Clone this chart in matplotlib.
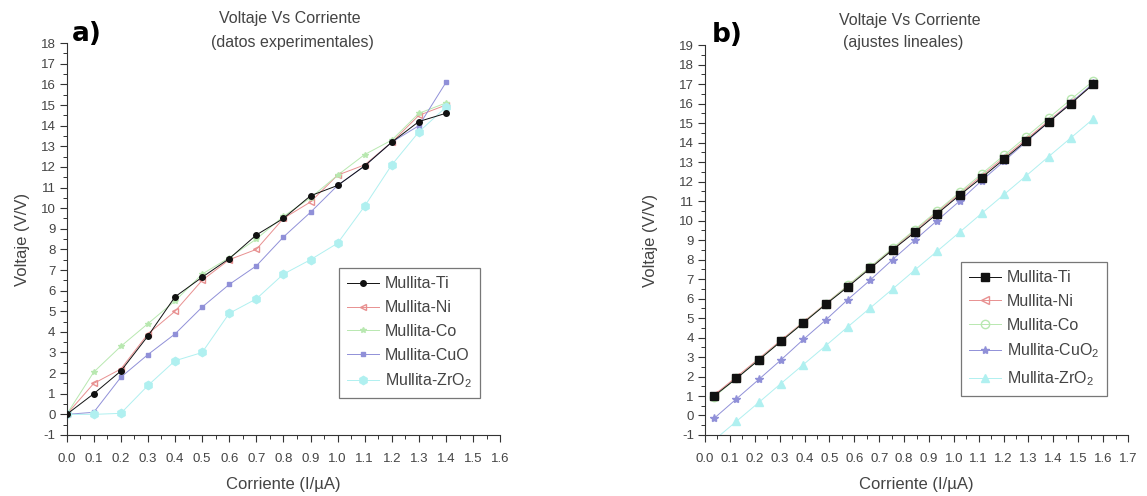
import matplotlib
matplotlib.use("Agg")
import matplotlib.pyplot as plt
import numpy as np
from matplotlib.ticker import MultipleLocator

plt.rcParams['font.family'] = ['Liberation Sans', 'DejaVu Sans']
plt.rcParams['mathtext.default'] = 'regular'
plt.rcParams['axes.unicode_minus'] = False

# ---- Panel a: experimental data ----
xa = [0.0, 0.1, 0.2, 0.3, 0.4, 0.5, 0.6, 0.7, 0.8, 0.9, 1.0, 1.1, 1.2, 1.3, 1.4]
ti_a = [0.0, 1.0, 2.1, 3.8, 5.7, 6.65, 7.55, 8.7, 9.5, 10.6, 11.1, 12.05, 13.2, 14.2, 14.6]
ni_a = [0.0, 1.5, 2.2, 3.9, 5.0, 6.5, 7.5, 8.0, 9.5, 10.3, 11.6, 12.1, 13.2, 14.5, 15.0]
co_a = [0.0, 2.05, 3.3, 4.4, 5.5, 6.8, 7.6, 8.5, 9.6, 10.5, 11.6, 12.6, 13.3, 14.6, 15.1]
cuo_a = [0.0, 0.1, 1.8, 2.9, 3.9, 5.2, 6.3, 7.2, 8.6, 9.8, 11.1, 12.05, 13.2, 14.0, 16.1]
zro_a = [0.0, 0.0, 0.05, 1.4, 2.6, 3.0, 4.9, 5.6, 6.8, 7.5, 8.3, 10.1, 12.1, 13.7, 14.9]

# ---- Panel b: linear fits ----
xb = [0.036, 0.126, 0.216, 0.305, 0.395, 0.485, 0.574, 0.664, 0.754,
      0.843, 0.933, 1.023, 1.112, 1.202, 1.292, 1.381, 1.471, 1.561]
ti_b = [1.0, 1.9, 2.85, 3.8, 4.75, 5.7, 6.6, 7.55, 8.5, 9.4, 10.35, 11.3,
        12.2, 13.15, 14.1, 15.05, 16.0, 17.0]
ni_b = [1.05, 1.98, 2.92, 3.86, 4.8, 5.74, 6.67, 7.61, 8.55, 9.49, 10.43,
        11.37, 12.3, 13.24, 14.18, 15.12, 16.06, 17.0]
co_b = [0.95, 1.9, 2.86, 3.81, 4.77, 5.72, 6.67, 7.63, 8.58, 9.54, 10.49,
        11.45, 12.4, 13.35, 14.31, 15.26, 16.22, 17.17]
cuo_b = [-0.15, 0.85, 1.85, 2.85, 3.9, 4.9, 5.95, 6.95, 8.0, 9.0, 10.0, 11.0,
         12.05, 13.05, 14.05, 15.05, 16.05, 17.05]
zro_b = [-1.27, -0.3, 0.67, 1.64, 2.61, 3.58, 4.55, 5.52, 6.49, 7.46, 8.43,
         9.4, 10.37, 11.34, 12.31, 13.28, 14.25, 15.22]

labels_a = ['Mullita-Ti', 'Mullita-Ni', 'Mullita-Co', 'Mullita-CuO', 'Mullita-ZrO$_2$']
labels_b = ['Mullita-Ti', 'Mullita-Ni', 'Mullita-Co', 'Mullita-CuO$_2$', 'Mullita-ZrO$_2$']

c_ti = '#111111'
c_ni = '#e89090'
c_co = '#b8e8b0'
c_cuo = '#9090d8'
c_zro = '#b0f0f0'
txt = '#444444'

W, H = 1147, 496
fig = plt.figure(figsize=(11.47, 4.96), dpi=100)
ax1 = fig.add_axes([0.0581, 0.123, 0.378, 0.790])
ax2 = fig.add_axes([0.6147, 0.123, 0.3687, 0.786])


def style(ax, xmax, ymax, ylab_x):
    for s in ['top', 'right']:
        ax.spines[s].set_visible(False)
    for s in ['left', 'bottom']:
        ax.spines[s].set_color('#333333')
        ax.spines[s].set_linewidth(0.8)
    ax.set_xlim(0, xmax)
    ax.set_ylim(-1, ymax)
    ax.xaxis.set_major_locator(MultipleLocator(0.1))
    ax.xaxis.set_minor_locator(MultipleLocator(0.05))
    ax.yaxis.set_major_locator(MultipleLocator(1))
    ax.yaxis.set_minor_locator(MultipleLocator(0.5))
    ax.xaxis.set_major_formatter(plt.FuncFormatter(lambda v, p: f"{v:.1f}"))
    ax.tick_params(which='major', direction='out', length=5, width=0.8,
                   colors='#333333', labelsize=9.5, labelcolor=txt, pad=3)
    ax.tick_params(axis='x', which='major', pad=8)
    ax.tick_params(which='minor', direction='out', length=3, width=0.7,
                   colors='#333333')
    ax.set_xlabel('Corriente (I/µA)', fontsize=12, color=txt)
    ax.set_ylabel('Voltaje (V/V)', fontsize=12, color=txt)
    ax.xaxis.set_label_coords(0.5, -0.107)
    ax.yaxis.set_label_coords(ylab_x, 0.5)


style(ax1, 1.6, 18, -0.085)
style(ax2, 1.7, 19, -0.111)

lw = 0.7
ax1.plot(xa, ti_a, '-', color=c_ti, lw=lw, marker='o', ms=4, label=labels_a[0], zorder=5)
ax1.plot(xa, ni_a, '-', color=c_ni, lw=lw, marker='<', ms=4, mfc='none', label=labels_a[1])
ax1.plot(xa, co_a, '-', color=c_co, lw=lw, marker='*', ms=4, label=labels_a[2])
ax1.plot(xa, cuo_a, '-', color=c_cuo, lw=lw, marker='s', ms=3, label=labels_a[3])
ax1.plot(xa, zro_a, '-', color=c_zro, lw=lw, marker='h', ms=6, label=labels_a[4])

ax2.plot(xb, ti_b, '-', color=c_ti, lw=lw, marker='s', ms=6, label=labels_b[0], zorder=5)
ax2.plot(xb, ni_b, '-', color=c_ni, lw=lw, marker='<', ms=6, mfc='none', label=labels_b[1])
ax2.plot(xb, co_b, '-', color=c_co, lw=lw, marker='o', ms=6, mfc='none', label=labels_b[2])
ax2.plot(xb, cuo_b, '-', color=c_cuo, lw=lw, marker='*', ms=6, label=labels_b[3])
ax2.plot(xb, zro_b, '-', color=c_zro, lw=lw, marker='^', ms=6, label=labels_b[4])

for ax, anchor in [(ax1, (0.953, 0.425)), (ax2, (0.951, 0.443))]:
    leg = ax.legend(loc='upper right', bbox_to_anchor=anchor, fontsize=11.5,
                    frameon=True, fancybox=False, edgecolor='#555555',
                    handlelength=2.0, handletextpad=0.4, borderpad=0.5,
                    labelspacing=0.55, borderaxespad=0)
    leg.get_frame().set_linewidth(0.9)
    for t in leg.get_texts():
        t.set_color(txt)

# titles (two lines each)
fig.text(290 / W, 1 - 18 / H, 'Voltaje Vs Corriente', fontsize=11.5, color=txt,
         ha='center', va='center')
fig.text(292 / W, 1 - 42 / H, '(datos experimentales)', fontsize=11.5, color=txt,
         ha='center', va='center')
fig.text(910 / W, 1 - 20 / H, 'Voltaje Vs Corriente', fontsize=11.5, color=txt,
         ha='center', va='center')
fig.text(903 / W, 1 - 43 / H, '(ajustes lineales)', fontsize=11.5, color=txt,
         ha='center', va='center')

fig.text(72 / W, 1 - 34 / H, 'a)', fontsize=19, fontweight='bold', color='black',
         family='DejaVu Sans', va='center', ha='left')
fig.text(712 / W, 1 - 35 / H, 'b)', fontsize=19, fontweight='bold', color='black',
         family='DejaVu Sans', va='center', ha='left')

fig.savefig('out.png', dpi=100)
